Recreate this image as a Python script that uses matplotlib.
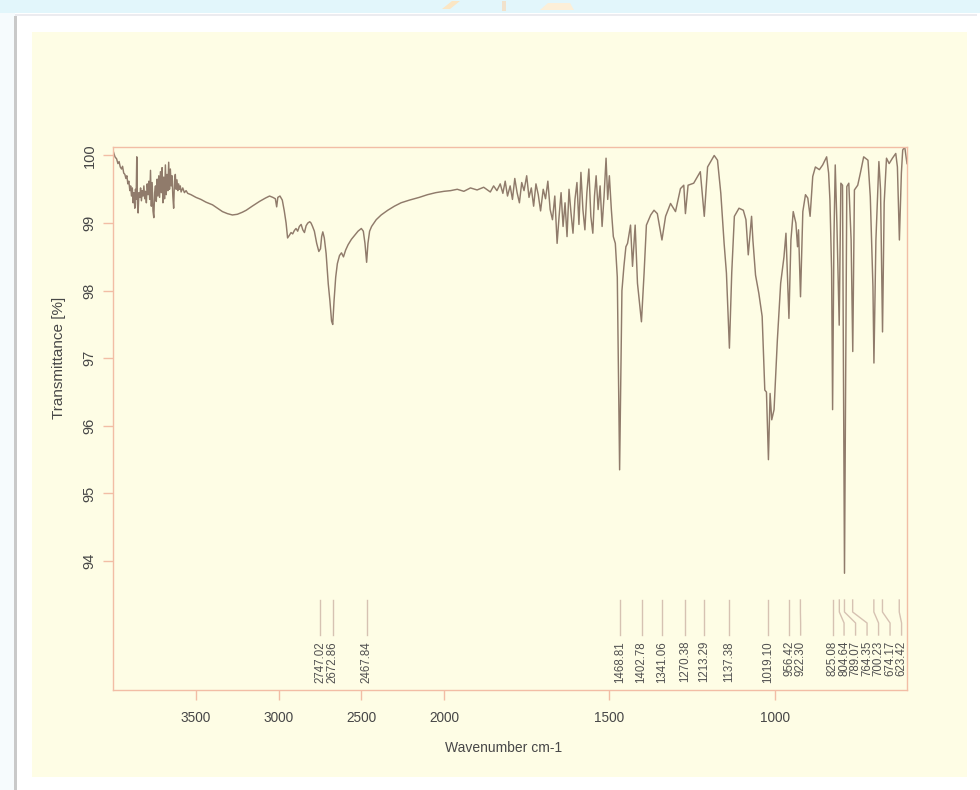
import numpy as np
import matplotlib
matplotlib.use('Agg')
import matplotlib.pyplot as plt
from matplotlib.patches import Rectangle, Polygon

# ---------------- data ----------------
wavenumber = [
    4000, 3990, 3980, 3972, 3965, 3958, 3950, 3944, 3937, 3930, 3924, 3918, 3912, 3906,
    3900, 3895, 3890, 3885, 3880, 3875, 3870, 3866, 3862, 3858, 3854, 3850, 3845, 3840,
    3835, 3830, 3825, 3820, 3815, 3810, 3805, 3800, 3795, 3790, 3785, 3780, 3775, 3770,
    3765, 3760, 3755, 3750, 3745, 3740, 3735, 3730, 3725, 3720, 3715, 3710, 3705, 3700,
    3695, 3690, 3685, 3680, 3675, 3670, 3665, 3660, 3655, 3650, 3645, 3640, 3635, 3630,
    3625, 3620, 3615, 3610, 3605, 3600, 3595, 3590, 3580, 3570, 3560, 3550, 3530, 3500,
    3470, 3440, 3400, 3370, 3340, 3310, 3280, 3250, 3220, 3196, 3160, 3116, 3080, 3055,
    3035, 3020, 3012, 3005, 2992, 2978, 2966, 2955, 2946, 2935, 2925, 2915, 2905, 2895,
    2885, 2875, 2864, 2854, 2844, 2834, 2824, 2812, 2804, 2795, 2784, 2770, 2757, 2747,
    2740, 2733, 2724, 2713, 2700, 2690, 2680, 2673, 2665, 2655, 2645, 2632, 2620, 2608,
    2595, 2580, 2560, 2540, 2520, 2500, 2488, 2478, 2468, 2460, 2450, 2438, 2410, 2380,
    2340, 2300, 2260, 2209, 2150, 2100, 2050, 2000,
    1980, 1960, 1940, 1920, 1900, 1880, 1860, 1850, 1840, 1830, 1822, 1815, 1808, 1800,
    1793, 1786, 1779, 1772, 1765, 1758, 1750, 1743, 1736, 1729, 1722, 1715, 1708, 1700,
    1693, 1686, 1679, 1672, 1665, 1658, 1652, 1646, 1640, 1634, 1628, 1622, 1616, 1610,
    1604, 1598, 1592, 1586, 1580, 1574, 1568, 1562, 1556, 1550, 1545, 1540, 1534, 1528,
    1522, 1516, 1510, 1505, 1500, 1494, 1488, 1482, 1476, 1469, 1462, 1456, 1450, 1445,
    1436, 1430, 1422, 1415, 1403, 1395, 1388, 1375, 1365, 1355, 1341, 1330, 1315, 1300,
    1285, 1275, 1270, 1262, 1245, 1225, 1213, 1203, 1183, 1173, 1163, 1153, 1146, 1137,
    1130, 1122, 1108, 1095, 1087, 1080, 1070, 1066, 1058, 1048, 1038, 1030, 1025, 1019,
    1014, 1009, 1002, 992, 982, 972, 966, 957, 951, 944, 936, 931, 928, 922,
    915, 907, 900, 893, 885, 877, 865, 855, 843, 837, 833, 828, 825, 821,
    817, 812, 805, 800, 795, 789, 782, 776, 769, 764, 759, 749, 741, 731,
    718, 711, 703, 700, 694, 685, 680, 674, 669, 662, 654, 644, 634, 629,
    623, 617, 613, 607, 600,
]
transmittance = [
    100.06, 99.98, 99.95, 99.88, 99.91, 99.83, 99.80, 99.84, 99.74, 99.72, 99.66, 99.70, 99.58, 99.62,
    99.48, 99.55, 99.40, 99.52, 99.30, 99.45, 99.22, 99.50, 99.35, 99.98, 99.30, 99.15, 99.45, 99.38,
    99.52, 99.33, 99.48, 99.40, 99.55, 99.36, 99.47, 99.30, 99.58, 99.42, 99.62, 99.35, 99.78, 99.25,
    99.60, 99.18, 99.08, 99.45, 99.55, 99.32, 99.65, 99.40, 99.70, 99.38, 99.76, 99.45, 99.82, 99.30,
    99.68, 99.36, 99.86, 99.42, 99.72, 99.48, 99.90, 99.50, 99.80, 99.55, 99.70, 99.40, 99.22, 99.62,
    99.72, 99.50, 99.64, 99.48, 99.58, 99.50, 99.55, 99.46, 99.52, 99.45, 99.48, 99.44, 99.42, 99.38,
    99.35, 99.31, 99.27, 99.22, 99.17, 99.14, 99.12, 99.13, 99.16, 99.19, 99.25, 99.32, 99.37, 99.40,
    99.38, 99.36, 99.24, 99.38, 99.40, 99.34, 99.18, 99.00, 98.78, 98.82, 98.86, 98.84, 98.89, 98.92,
    98.88, 98.95, 98.98, 98.90, 98.86, 98.96, 99.00, 99.02, 99.00, 98.95, 98.88, 98.70, 98.58, 98.62,
    98.80, 98.87, 98.78, 98.55, 98.10, 97.85, 97.55, 97.50, 97.85, 98.20, 98.40, 98.52, 98.56, 98.50,
    98.60, 98.68, 98.76, 98.82, 98.88, 98.92, 98.88, 98.70, 98.42, 98.70, 98.88, 98.95, 99.05, 99.12,
    99.19, 99.25, 99.30, 99.34, 99.38, 99.42, 99.45, 99.47,
    99.48, 99.50, 99.47, 99.52, 99.49, 99.53, 99.46, 99.55, 99.48, 99.58, 99.44, 99.62, 99.40, 99.55,
    99.35, 99.66, 99.45, 99.30, 99.60, 99.48, 99.70, 99.38, 99.52, 99.25, 99.58, 99.42, 99.18, 99.50,
    99.36, 99.62, 99.20, 99.05, 99.40, 98.70, 99.10, 99.45, 98.95, 99.30, 98.80, 99.50, 99.15, 98.85,
    99.35, 99.60, 98.98, 99.75, 99.20, 98.90, 99.45, 99.80, 99.10, 98.85, 99.40, 99.70, 99.20, 99.55,
    98.95, 99.40, 99.96, 99.35, 99.70, 99.20, 98.80, 98.70, 98.20, 95.35, 98.00, 98.36, 98.65, 98.70,
    98.97, 98.36, 98.97, 98.11, 97.54, 98.26, 98.97, 99.12, 99.19, 99.14, 98.75, 99.10, 99.29, 99.17,
    99.51, 99.56, 99.14, 99.56, 99.59, 99.76, 99.10, 99.83, 100.00, 99.93, 99.44, 98.70, 98.26, 97.15,
    98.26, 99.10, 99.22, 99.19, 99.05, 98.53, 99.10, 98.75, 98.23, 97.96, 97.62, 96.53, 96.50, 95.50,
    96.48, 96.09, 96.24, 97.27, 98.11, 98.50, 98.85, 97.59, 98.75, 99.17, 99.00, 98.65, 98.90, 97.91,
    99.17, 99.42, 99.37, 99.10, 99.69, 99.83, 99.79, 99.86, 99.98, 99.74, 99.34, 98.30, 96.24, 98.75,
    99.86, 99.00, 97.49, 99.59, 99.56, 93.82, 99.54, 99.59, 98.75, 97.10, 99.49, 99.56, 99.74, 99.98,
    99.93, 99.39, 98.06, 96.93, 98.75, 99.91, 99.49, 97.39, 99.30, 99.96, 99.88, 99.96, 100.03, 99.83,
    98.75, 99.74, 100.08, 100.13, 99.88,
]
peak_wavenumbers = [2747.02, 2672.86, 2467.84, 1468.81, 1402.78, 1341.06, 1270.38,
                    1213.29, 1137.38, 1019.10, 956.42, 922.30, 825.08, 804.64,
                    789.07, 764.35, 700.23, 674.17, 623.42]
x_ticks = [3500, 3000, 2500, 2000, 1500, 1000]
y_ticks = [94, 95, 96, 97, 98, 99, 100]
x_label = "Wavenumber cm-1"
y_label = "Transmittance [%]"


# split wavenumber axis: region above 2000 cm-1 compressed by a factor 2
def fwd(w):
    w = np.asarray(w, dtype=float)
    return np.where(w > 2000, 2000 + (w - 2000) / 2.0, w)


def inv(u):
    u = np.asarray(u, dtype=float)
    return np.where(u > 2000, 2000 + (u - 2000) * 2.0, u)


plt.rcParams['font.family'] = ['Liberation Sans', 'DejaVu Sans']
W, H = 980, 790
fig = plt.figure(figsize=(W / 100, H / 100), dpi=100)
fig.patch.set_facecolor('white')


def frect(x0, y0, x1, y1, **kw):
    fig.patches.append(Rectangle((x0 / W, 1 - y1 / H), (x1 - x0) / W, (y1 - y0) / H,
                                 transform=fig.transFigure, zorder=-10, **kw))


def fpoly(pts, **kw):
    fig.patches.append(Polygon([(x / W, 1 - y / H) for x, y in pts], closed=True,
                               transform=fig.transFigure, zorder=-9, **kw))


# page background layers
frect(0, 0, W, 13, facecolor='#e2f6fb', edgecolor='none')
frect(0, 13, 15, H, facecolor='#f6fbfd', edgecolor='none')
frect(15, 14, 977, H, facecolor='white', edgecolor='none')
frect(15, 14, 977, 16, facecolor='#ececf0', edgecolor='none')
frect(14, 16, 17, H, facecolor='#c9c9c9', edgecolor='none')
frect(32, 32, 967, 777, facecolor='#fefde5', edgecolor='none')
# small, faint cut-off decoration at the top edge of the screenshot
fpoly([(442, 9), (452, 1), (460, 1), (450, 9)], facecolor='#fbe6c4', edgecolor='none')
fpoly([(502, 11), (502, 1), (506, 1), (506, 11)], facecolor='#f1e2cc', edgecolor='none')
fpoly([(540, 10), (548, 3), (570, 3), (574, 10)], facecolor='#fcefd8', edgecolor='none')

ax_l, ax_r, ax_t, ax_b = 113.3, 907.0, 147.3, 690.0
ax = fig.add_axes([ax_l / W, 1 - ax_b / H, (ax_r - ax_l) / W, (ax_b - ax_t) / H])
ax.set_zorder(5)
ax.set_facecolor('none')
ax.set_xscale('function', functions=(fwd, inv))
ax.set_xlim(4000, 600)
ax.set_ylim(92.093, 100.121)

ax.plot(wavenumber, transmittance, color='#907b6b', lw=1.05, solid_joinstyle='round')

spine_col = '#f2bda5'
for s in ax.spines.values():
    s.set_color(spine_col)
    s.set_linewidth(1.0)
ax.set_xticks(x_ticks)
ax.set_xticklabels([str(t) for t in x_ticks])
ax.set_yticks(y_ticks)
ax.set_yticklabels([str(t) for t in y_ticks], rotation=90, va='center')
ax.tick_params(direction='out', length=7, width=1, color=spine_col,
               labelcolor='#474747')
ax.tick_params(axis='x', labelsize=9.8, pad=8)
ax.tick_params(axis='y', labelsize=10.5, pad=5)
ax.minorticks_off()

ax.set_xlabel(x_label, fontsize=10, color='#474747')
ax.set_ylabel(y_label, fontsize=11, color='#474747')
ax.xaxis.set_label_coords((504 - ax_l) / (ax_r - ax_l), (ax_b - 741) / (ax_b - ax_t))
ax.yaxis.set_label_coords((66 - ax_l) / (ax_r - ax_l), (ax_b - 358) / (ax_b - ax_t))

# peak annotations with leader lines, spread to avoid overlap
hpx = ax_b - ax_t
ax_w = ax_r - ax_l
y0 = (ax_b - 600) / hpx
y1 = (ax_b - 612) / hpx
y2 = (ax_b - 623) / hpx
y3 = (ax_b - 635) / hpx
yt = (ax_b - 641) / hpx
to_axes = ax.transAxes.inverted()
peak_ax = [to_axes.transform(ax.transData.transform((w, 99.0)))[0] for w in peak_wavenumbers]
order = np.argsort(peak_ax)
gap = 11.5 / ax_w
lab_ax = [0.0] * len(peak_ax)
prev = -1.0
for i in order:
    pos = max(peak_ax[i], prev + gap)
    lab_ax[i] = pos
    prev = pos
for w, px, lx in zip(peak_wavenumbers, peak_ax, lab_ax):
    ax.plot([px, px, lx, lx], [y0, y1, y2, y3], transform=ax.transAxes,
            color='#d6c2b2', lw=1.0, clip_on=False)
    ax.text(lx, yt, f"{w:.2f}", transform=ax.transAxes, rotation=90,
            ha='center', va='top', fontsize=8.3, color='#505050')

fig.savefig('out.png', dpi=100, facecolor=fig.get_facecolor())
